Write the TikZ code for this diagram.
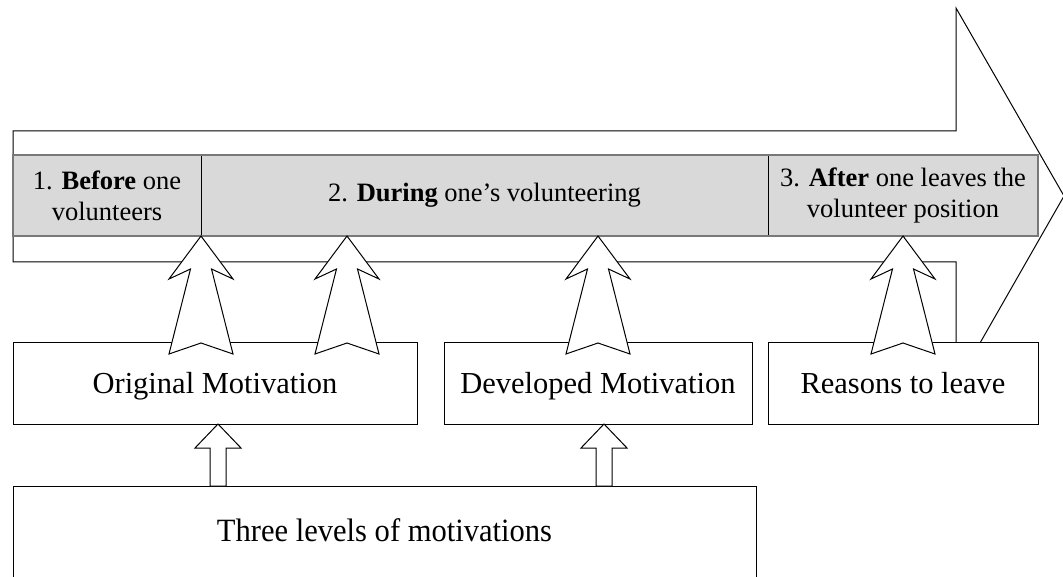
\documentclass[tikz,border=0pt]{standalone}
\usepackage{fontspec}
\setmainfont{Liberation Serif}
\usetikzlibrary{calc}
\definecolor{bandgray}{RGB}{217,217,217}
\definecolor{bandedge}{RGB}{120,120,120}

\begin{document}
\begin{tikzpicture}[x=1pt, y=-1pt, line join=miter,
  outline/.style={draw=black, line width=1pt},
  cell/.style={draw=black, line width=1pt, fill=bandgray, inner sep=0pt, outer sep=0pt,
    align=center, font=\fontsize{26.5}{31}\selectfont},
  box/.style={draw=black, line width=1pt, fill=white, inner sep=0pt, outer sep=0pt,
    font=\fontsize{30.5}{36}\selectfont, text height=20pt, text depth=0pt},
  hollow/.style={draw=black, line width=1pt, fill=white},
  uparrow/.pic={\draw[hollow] (0,0) -- (32,43) -- (10.5,33) -- (32,118) -- (0,107)
      -- (-32,118) -- (-10.5,33) -- (-32,43) -- cycle;},
  smallup/.pic={\draw[hollow] (0,0) -- (23,24) -- (8,24) -- (8,62) -- (-8,62)
      -- (-8,24) -- (-23,24) -- cycle;},
]
\useasboundingbox (0,0) rectangle (1063,577);
\clip (0,0) rectangle (1063,577);

% time line: large block arrow
\draw[outline, fill=white] (13,131) -- (956,131) -- (956,8) -- (1064,196)
  -- (956,385) -- (956,262) -- (13,262) -- cycle;

% three phases
\node[cell, minimum width=188pt, minimum height=81pt] (before) at (107,195.5)
  {1. \textbf{Before} one\\volunteers};
\node[cell, minimum width=567pt, minimum height=81pt] (during) at (484.5,195.5)
  {2. \textbf{During} one’s volunteering};
\node[cell, minimum width=270pt, minimum height=81pt] (after) at (903,195.5)
  {3. \textbf{After} one leaves the\\volunteer position};
\draw[draw=bandedge, line width=1.6pt] (before.north west) rectangle (after.south east);

% motivation boxes
\node[box, minimum width=404pt, minimum height=81pt] (orig) at (215,383.5)
  {Original Motivation};
\node[box, minimum width=308pt, minimum height=81pt] (dev) at (598,383.5)
  {Developed Motivation};
\node[box, minimum width=270pt, minimum height=81pt] (reasons) at (903,383.5)
  {Reasons to leave};
\node[box, minimum width=743pt, minimum height=114pt, text height=21pt, text depth=23.6pt,
  font=\fontsize{32.5}{38}\selectfont] (levels) at (384.5,543)
  {\scalebox{0.94}[1]{Three levels of motivations}};

% links from motivations to phases
\pic at (before.south east) {uparrow};
\pic at ([xshift=146pt]before.south east) {uparrow};
\pic at (dev.north |- during.south) {uparrow};
\pic at (reasons.north |- after.south) {uparrow};

% links from the three levels to the motivations
\pic at ([xshift=3pt]orig.south) {smallup};
\pic at ([xshift=6pt]dev.south) {smallup};
\end{tikzpicture}
\end{document}
